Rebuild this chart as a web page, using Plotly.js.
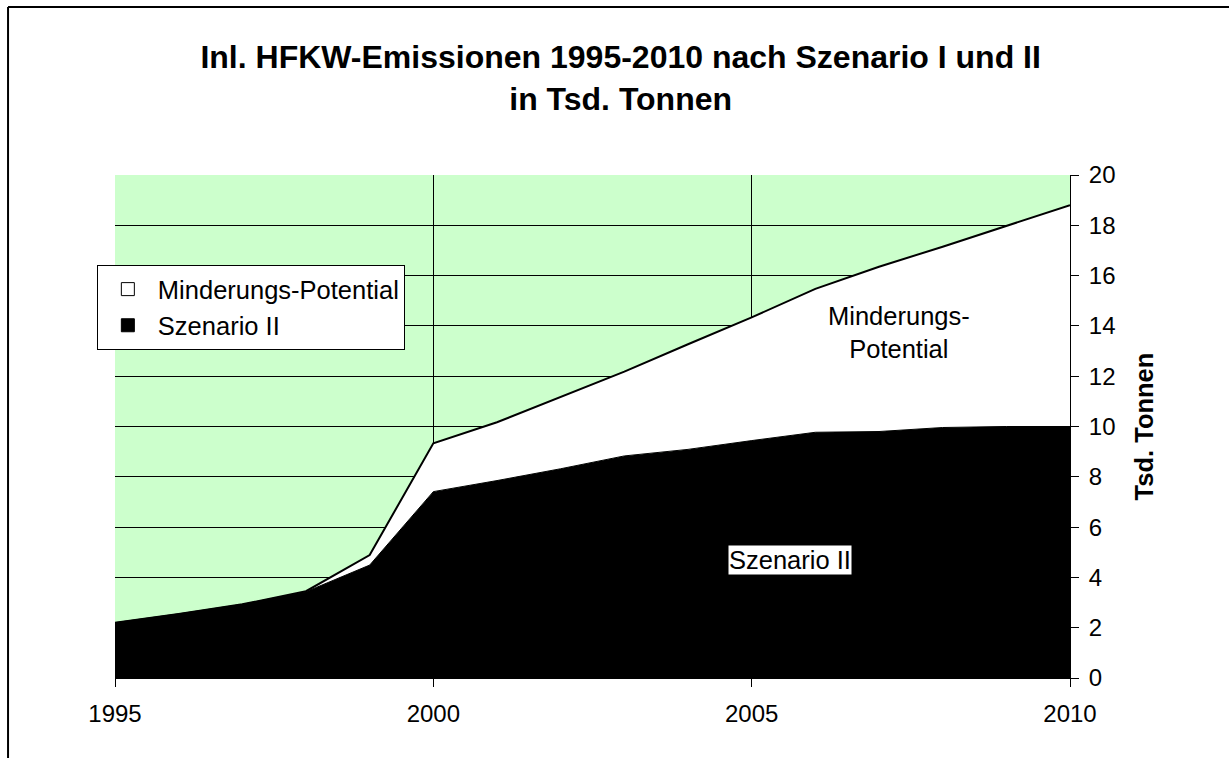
<!DOCTYPE html>
<html>
<head>
<meta charset="utf-8">
<script src="https://cdn.plot.ly/plotly-3.0.1.min.js"></script>
<style>
  html, body { margin: 0; padding: 0; background: #ffffff; }
  #chart { width: 1229px; height: 758px; }
</style>
</head>
<body>
<div id="chart"></div>
<script>
// Data
const years = [1995, 1996, 1997, 1998, 1999, 2000, 2001, 2002, 2003, 2004, 2005, 2006, 2007, 2008, 2009, 2010];
// Szenario II emissions (Tsd. Tonnen)
const szenarioII = [2.2, 2.55, 2.93, 3.43, 4.49, 7.41, 7.85, 8.32, 8.83, 9.09, 9.44, 9.77, 9.8, 9.96, 10.0, 10.0];
// Szenario I emissions (upper edge of the Minderungs-Potential band)
const szenarioI = [2.2, 2.55, 2.93, 3.45, 4.89, 9.33, 10.17, 11.19, 12.18, 13.27, 14.34, 15.47, 16.35, 17.15, 17.97, 18.8];
const xTicks = [1995, 2000, 2005, 2010];
const yTicks = [0, 2, 4, 6, 8, 10, 12, 14, 16, 18, 20];

const FONT = 'Arial, "Liberation Sans", sans-serif';

const traces = [
  {
    x: years, y: szenarioII, name: 'Szenario II', type: 'scatter', mode: 'lines',
    fill: 'tozeroy', fillcolor: '#000000',
    line: { color: '#000000', width: 1 },
    showlegend: false, hoverinfo: 'skip'
  },
  {
    x: years, y: szenarioI, name: 'Minderungs-Potential', type: 'scatter', mode: 'lines',
    fill: 'tonexty', fillcolor: '#ffffff',
    line: { color: '#000000', width: 2 },
    showlegend: false, hoverinfo: 'skip'
  },
  // legend keys (square swatches)
  {
    x: [null], y: [null], name: 'Szenario II', type: 'scatter', mode: 'markers',
    marker: { symbol: 'square', size: 13, color: '#000000', line: { color: '#000000', width: 1 } },
    hoverinfo: 'skip'
  },
  {
    x: [null], y: [null], name: 'Minderungs-Potential', type: 'scatter', mode: 'markers',
    marker: { symbol: 'square', size: 13, color: '#ffffff', line: { color: '#000000', width: 1 } },
    hoverinfo: 'skip'
  }
];

const layout = {
  width: 1229, height: 758,
  margin: { l: 115, r: 159, t: 175, b: 80 },
  paper_bgcolor: '#ffffff',
  plot_bgcolor: '#ccffcc',
  font: { family: FONT, size: 24, color: '#000000' },
  showlegend: true,
  title: {
    text: 'Inl. HFKW-Emissionen 1995-2010 nach Szenario I und II<br>in Tsd. Tonnen',
    font: { family: FONT, size: 32, color: '#000000', weight: 'bold' },
    x: 0.505, xref: 'container', xanchor: 'center',
    y: 1 - 68 / 758, yref: 'container', yanchor: 'top'
  },
  xaxis: {
    range: [1995, 2010],
    tickmode: 'array', tickvals: xTicks, ticktext: xTicks.map(String),
    showgrid: true, gridcolor: '#000000', gridwidth: 1,
    zeroline: false,
    showline: true, linecolor: '#000000', linewidth: 1,
    ticks: 'outside', ticklen: 8, tickcolor: '#000000', tickwidth: 1,
    tickfont: { family: FONT, size: 24, color: '#000000' },
    ticklabelstandoff: 6,
    fixedrange: true
  },
  yaxis: {
    range: [0, 20], side: 'right',
    tickmode: 'array', tickvals: yTicks, ticktext: yTicks.map(String),
    showgrid: true, gridcolor: '#000000', gridwidth: 1,
    zeroline: false,
    showline: true, linecolor: '#000000', linewidth: 1,
    ticks: 'outside', ticklen: 8, tickcolor: '#000000', tickwidth: 1,
    tickfont: { family: FONT, size: 24, color: '#000000' },
    ticklabelstandoff: 5,
    title: { text: 'Tsd. Tonnen', font: { family: FONT, size: 25.5, color: '#000000', weight: 'bold' }, standoff: 20 },
    fixedrange: true
  },
  legend: {
    x: -0.019, y: 0.821, xanchor: 'left', yanchor: 'top',
    bgcolor: '#ffffff', bordercolor: '#000000', borderwidth: 1,
    traceorder: 'reversed', itemwidth: 50,
    font: { family: FONT, size: 25.5, color: '#000000' }
  },
  annotations: [
    {
      x: 2007.31, y: 13.72, xref: 'x', yref: 'y',
      text: 'Minderungs-<br>Potential', showarrow: false,
      font: { family: FONT, size: 25.5, color: '#000000' }, align: 'center'
    },
    {
      x: 2005.6, y: 4.69, xref: 'x', yref: 'y',
      text: 'Szenario II', showarrow: false, bgcolor: '#ffffff',
      font: { family: FONT, size: 25.5, color: '#000000' }, borderpad: 0
    }
  ],
  shapes: [
    { type: 'line', xref: 'paper', yref: 'paper', x0: -0.112, x1: 1.2, y0: 1.334, y1: 1.334, line: { color: '#000000', width: 2 } },
    { type: 'line', xref: 'paper', yref: 'paper', x0: -0.112, x1: -0.112, y0: 1.334, y1: -0.2, line: { color: '#000000', width: 2 } }
  ]
};

Plotly.newPlot('chart', traces, layout, { displayModeBar: false, staticPlot: true });
</script>
</body>
</html>
